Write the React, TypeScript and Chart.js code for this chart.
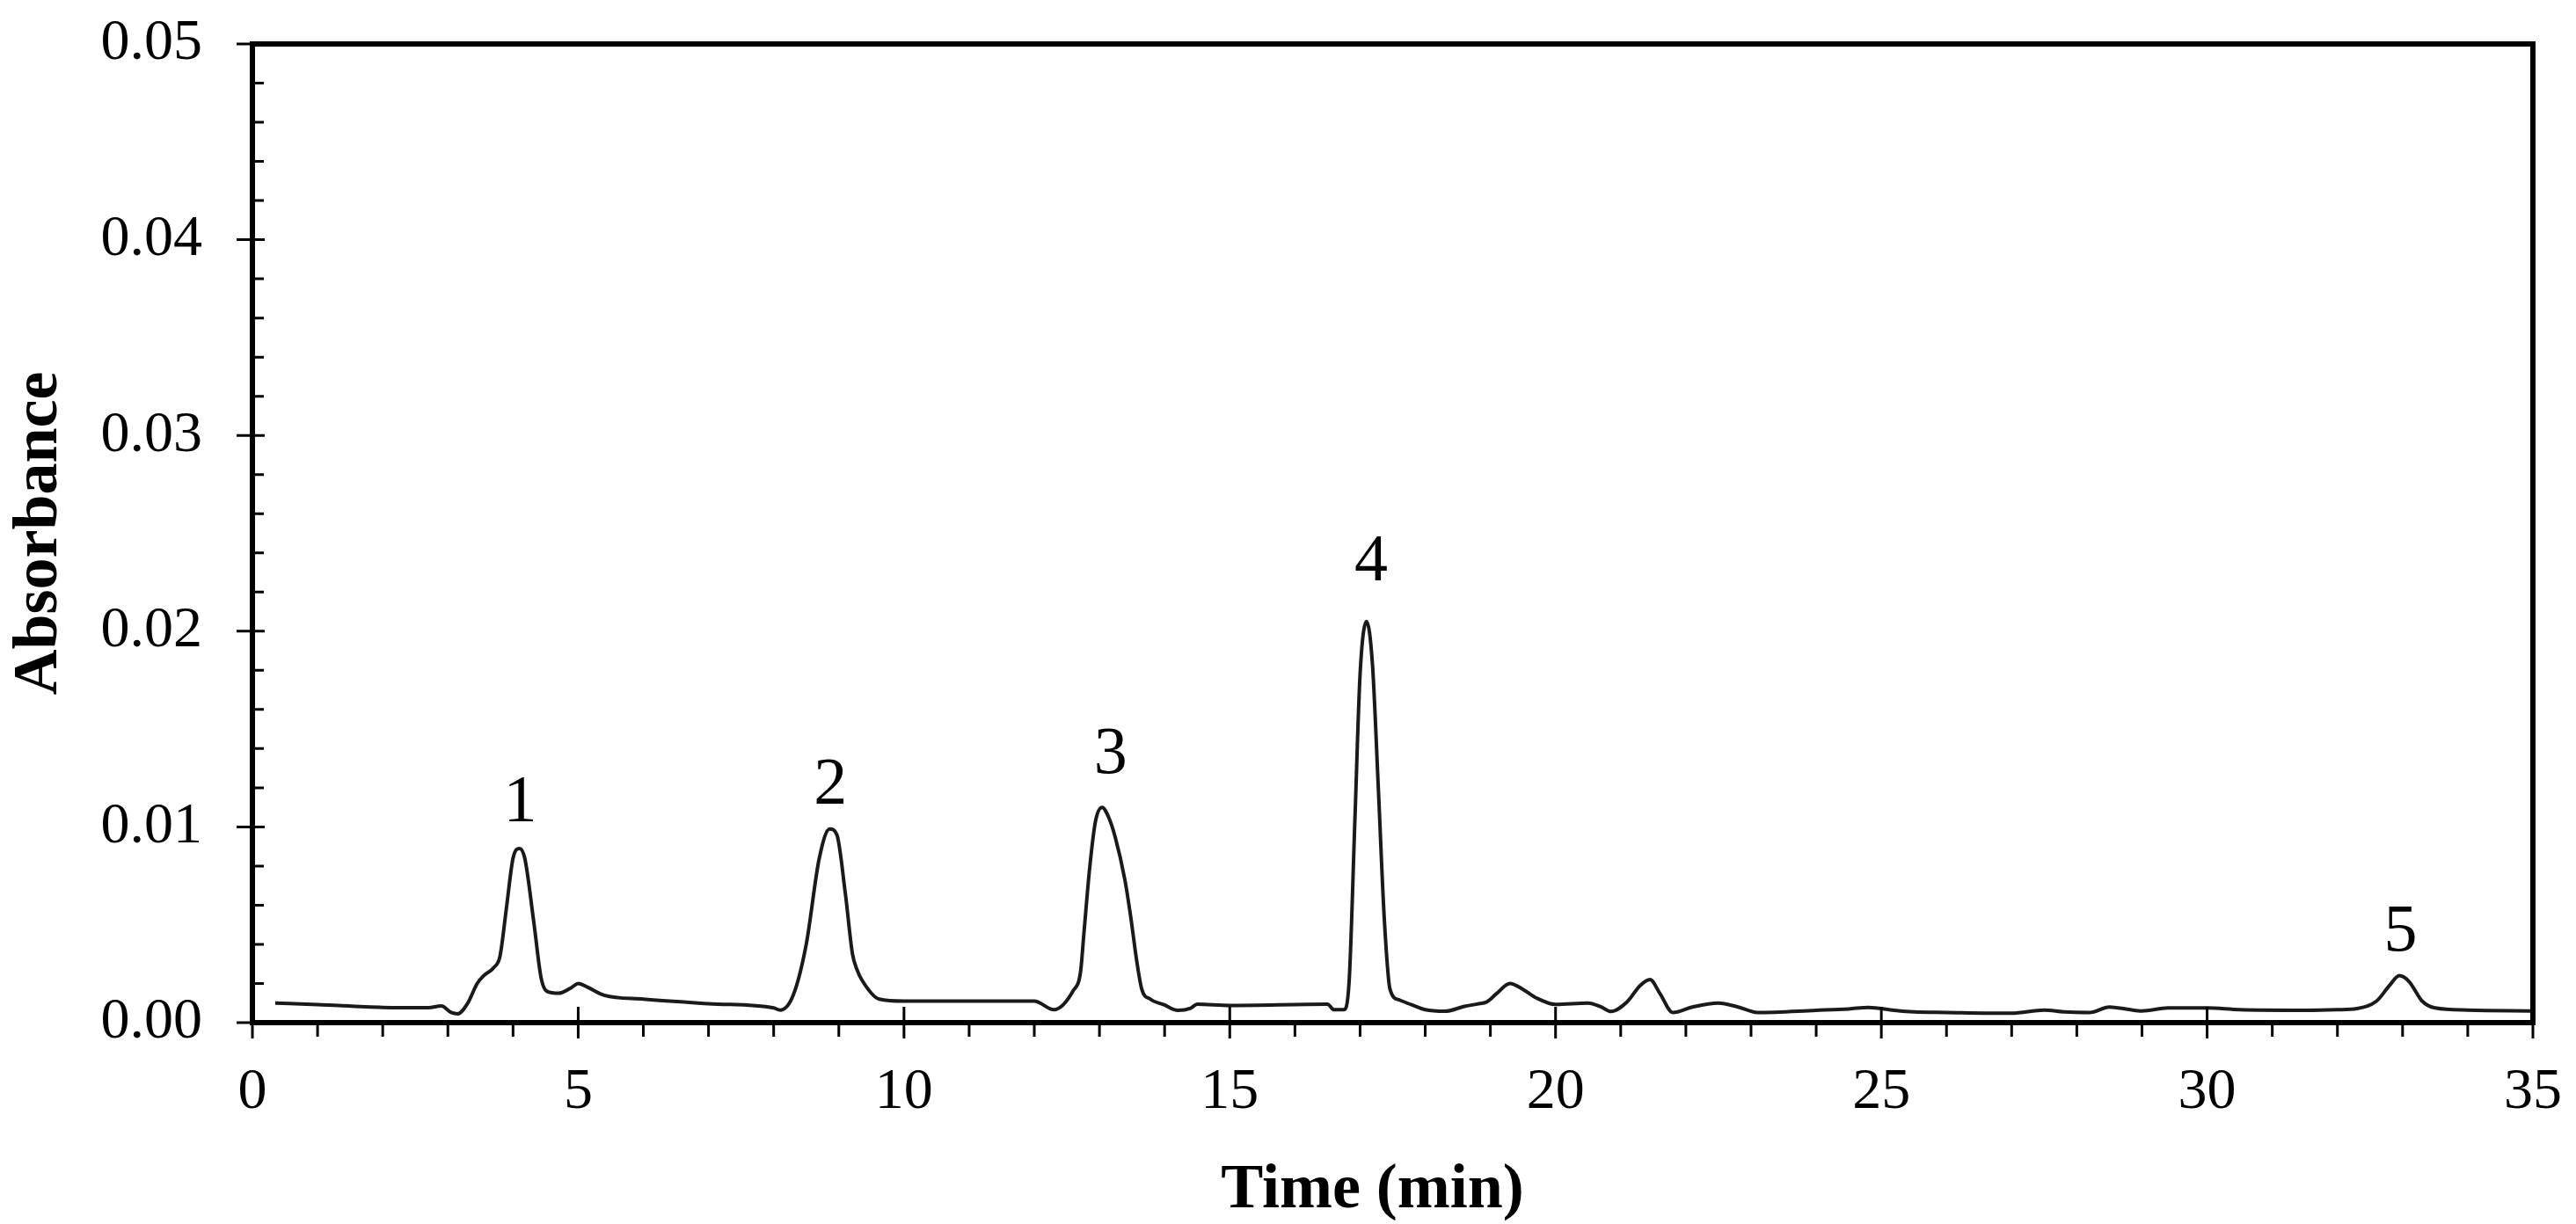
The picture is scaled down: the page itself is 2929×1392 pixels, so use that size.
import { useEffect, useRef } from "react";
import { Chart, registerables } from "chart.js";

Chart.register(...registerables);

// retention time (min) and absorbance
const times = [
  0.35, 1.0, 2.0, 2.7, 2.9, 3.05, 3.15, 3.3, 3.45, 3.55, 3.7, 3.8, 3.9, 4.0, 4.1, 4.18, 4.32, 4.43, 4.52, 4.7,
  4.9, 5.0, 5.15, 5.4, 6.0, 7.0, 8.0, 8.1, 8.3, 8.5, 8.7, 8.86, 8.97, 9.1, 9.21, 9.28, 9.35, 9.62, 10.0, 12.0,
  12.3, 12.6, 12.71, 12.76, 12.85, 12.94, 13.04, 13.14, 13.24, 13.39, 13.48, 13.57, 13.65, 13.78, 14.0, 14.2, 14.4, 14.5, 15.0, 16.5,
  16.6, 16.75, 16.83, 16.92, 17.0, 17.1, 17.19, 17.28, 17.37, 17.46, 17.6, 17.8, 18.0, 18.3, 18.6, 18.8, 18.95, 19.1, 19.3, 19.5,
  19.7, 20.0, 20.5, 20.7, 20.85, 21.1, 21.3, 21.45, 21.6, 21.8, 22.1, 22.5, 22.8, 23.1, 24.0, 24.5, 24.8, 25.2, 25.5, 26.0,
  27.0, 27.5, 27.8, 28.2, 28.5, 28.8, 29.0, 29.4, 30.0, 30.5, 31.5, 32.0, 32.3, 32.6, 32.8, 32.95, 33.1, 33.3, 33.5, 34.0,
  35.0,
];
const absorbance = [
  0.001, 0.00092, 0.00078, 0.00076, 0.00085, 0.00052, 0.00045, 0.00097, 0.002, 0.0024, 0.0028, 0.0034, 0.0059, 0.0084, 0.0089, 0.0084, 0.0051, 0.0023, 0.0016, 0.0015,
  0.0018, 0.002, 0.0018, 0.0014, 0.0012, 0.00097, 0.00075, 0.00064, 0.0014, 0.004, 0.0084, 0.0099, 0.0096, 0.0066, 0.0035, 0.0027, 0.0022, 0.0012, 0.0011, 0.0011,
  0.00066, 0.00165, 0.0026, 0.0045, 0.0079, 0.0103, 0.011, 0.0105, 0.0095, 0.0073, 0.0054, 0.0032, 0.0017, 0.0012, 0.0009, 0.00063, 0.00074, 0.00094, 0.00088, 0.00094,
  0.00066, 0.00066, 0.002, 0.0103, 0.0178, 0.0205, 0.0183, 0.012, 0.0054, 0.0017, 0.00116, 0.0009, 0.00066, 0.00058, 0.00083, 0.00095, 0.00107, 0.0015, 0.002, 0.0017,
  0.00127, 0.00093, 0.001, 0.0008, 0.00057, 0.00107, 0.0019, 0.0022, 0.0015, 0.00052, 0.0008, 0.001, 0.0008, 0.00052, 0.00063, 0.0007, 0.00078, 0.00063, 0.00055, 0.00052,
  0.00048, 0.00064, 0.00055, 0.00052, 0.0008, 0.00067, 0.0006, 0.00075, 0.00075, 0.00066, 0.00063, 0.00066, 0.00072, 0.0011, 0.0019, 0.0024, 0.0021, 0.0011, 0.00075, 0.00064,
  0.0006,
];

// peak numbers, placed just above each peak (bottom of the digit)
const peakLabels = ["1", "2", "3", "4", "5"];
const peakLabelTimes = [4.11, 8.87, 13.17, 17.17, 32.97];
const peakLabelY = [0.01027, 0.01117, 0.01274, 0.0226, 0.00368];

const X_TITLE = "Time (min)";
const FONT = "'Liberation Serif', 'Times New Roman', serif";

const frame = {
  id: "frame",
  afterDatasetsDraw(chart: Chart) {
    const { ctx, chartArea: a, scales } = chart;
    const x = scales.x;
    const y = scales.y;
    ctx.save();
    ctx.strokeStyle = "#000";
    ctx.lineCap = "butt";

    // ticks: majors cross the axis, minors point out (x) or in (y)
    ctx.lineWidth = 3;
    ctx.beginPath();
    for (let t = 0; t <= 35; t++) {
      const px = x.getPixelForValue(t);
      if (t % 5 === 0) {
        ctx.moveTo(px, a.bottom - 18);
        ctx.lineTo(px, a.bottom + 18);
      } else {
        ctx.moveTo(px, a.bottom);
        ctx.lineTo(px, a.bottom + 16);
      }
    }
    for (let i = 0; i <= 25; i++) {
      const py = y.getPixelForValue(i * 0.002);
      if (i % 5 === 0) {
        ctx.moveTo(a.left - 18, py);
        ctx.lineTo(a.left + 14, py);
      } else {
        ctx.moveTo(a.left, py);
        ctx.lineTo(a.left + 13, py);
      }
    }
    ctx.stroke();

    // box
    ctx.lineWidth = 6;
    ctx.strokeRect(a.left, a.top, a.right - a.left, a.bottom - a.top);

    // peak labels
    ctx.fillStyle = "#000";
    ctx.font = `76px ${FONT}`;
    ctx.textAlign = "center";
    ctx.textBaseline = "alphabetic";
    peakLabels.forEach((lbl, i) => {
      ctx.fillText(lbl, x.getPixelForValue(peakLabelTimes[i]), y.getPixelForValue(peakLabelY[i]));
    });

    // x title sits a little left of centre in the original
    ctx.font = `bold 72px ${FONT}`;
    ctx.fillText(X_TITLE, (a.left + a.right) / 2 - 23, a.bottom + 210);
    ctx.restore();
  },
};

export default function App() {
  const canvasRef = useRef<HTMLCanvasElement>(null);
  const chartRef = useRef<Chart | null>(null);

  useEffect(() => {
    document.body.style.margin = "0";
    if (!canvasRef.current) return;
    if (chartRef.current) chartRef.current.destroy();

    chartRef.current = new Chart(canvasRef.current, {
      type: "line",
      data: {
        datasets: [
          {
            label: "Absorbance",
            data: times.map((t, i) => ({ x: t, y: absorbance[i] })),
            borderColor: "#1a1a1a",
            borderWidth: 4,
            pointRadius: 0,
            fill: false,
            cubicInterpolationMode: "monotone",
          },
        ],
      },
      options: {
        responsive: true,
        maintainAspectRatio: false,
        animation: false,
        layout: { padding: { top: 50, right: 49, left: 0, bottom: 0 } },
        plugins: {
          legend: { display: false },
          tooltip: { enabled: false },
        },
        scales: {
          x: {
            type: "linear",
            min: 0,
            max: 35,
            afterFit: (s: any) => {
              s.height = 229;
              s.paddingLeft = 0;
              s.paddingRight = 0;
            },
            grid: { display: false, drawTicks: false },
            border: { display: false },
            ticks: {
              stepSize: 5,
              color: "#000",
              padding: 40,
              maxRotation: 0,
              font: { family: FONT, size: 66 },
            },
          },
          y: {
            min: 0,
            max: 0.05,
            afterFit: (s: any) => {
              s.width = 287;
              s.paddingTop = 0;
              s.paddingBottom = 0;
            },
            grid: { display: false, drawTicks: false },
            border: { display: false },
            ticks: {
              stepSize: 0.01,
              color: "#000",
              padding: 57,
              font: { family: FONT, size: 66 },
              callback: (v) => Number(v).toFixed(2),
            },
            title: {
              display: true,
              text: "Absorbance",
              color: "#000",
              padding: { top: 2, bottom: 0 },
              font: { family: FONT, size: 72, weight: "bold", lineHeight: 1.2 },
            },
          },
        },
      },
      plugins: [frame],
    });

    return () => {
      if (chartRef.current) {
        chartRef.current.destroy();
        chartRef.current = null;
      }
    };
  }, []);

  return (
    <div style={{ width: 2929, height: 1392, background: "#fff" }}>
      <canvas ref={canvasRef} />
    </div>
  );
}
